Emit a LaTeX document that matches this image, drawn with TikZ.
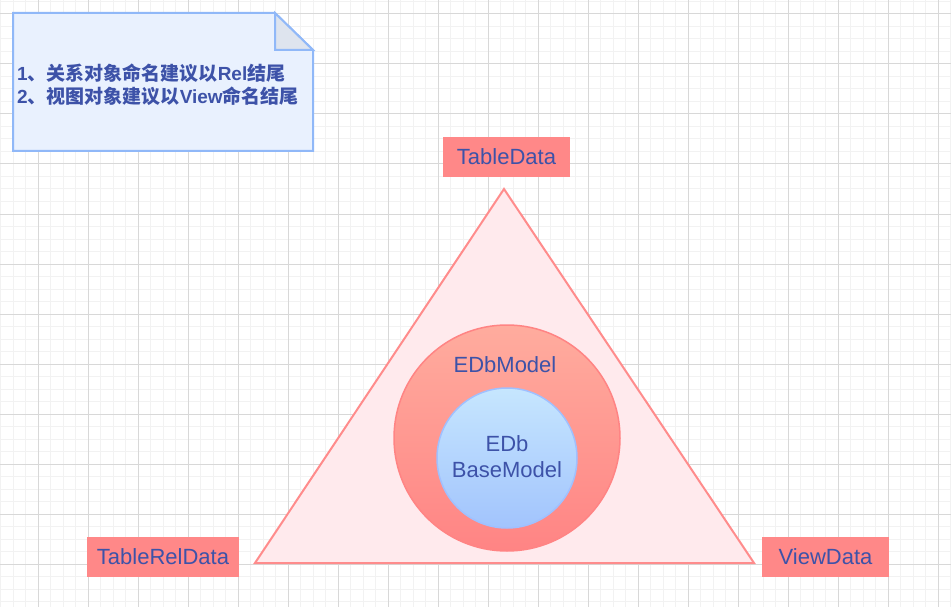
\documentclass[tikz,border=0pt]{standalone}
\usepackage{fontspec}
\setmainfont{Liberation Sans}
\newfontfamily\cjk{Noto Sans CJK SC}
\usetikzlibrary{positioning}
\definecolor{txtblue}{RGB}{61,82,168}
\definecolor{labelred}{RGB}{255,136,136}
\definecolor{trifill}{RGB}{255,234,237}
\definecolor{tristroke}{RGB}{255,140,140}
\definecolor{outertop}{RGB}{255,172,158}
\definecolor{outerbot}{RGB}{255,132,132}
\definecolor{innertop}{RGB}{198,230,254}
\definecolor{innerbot}{RGB}{162,196,253}
\definecolor{innerstroke}{RGB}{160,192,255}
\definecolor{notefill}{RGB}{233,241,254}
\definecolor{notestroke}{RGB}{144,184,248}
\definecolor{notefold}{RGB}{222,228,238}
\definecolor{gridminor}{RGB}{242,242,242}
\definecolor{gridmajor}{RGB}{216,216,216}
\newcommand{\zh}[1]{{\cjk #1}}

\begin{document}
\begin{tikzpicture}[x=1pt, y=-1pt,
  labelbox/.style={fill=labelred, text=txtblue, font=\fontsize{22}{26}\selectfont, minimum width=127pt, minimum height=40pt, inner sep=0pt},
  circletext/.style={text=txtblue, font=\fontsize{22}{26}\selectfont, align=center, inner sep=0pt}]
\useasboundingbox (0,0) rectangle (951,607);
% grid
\fill[white](0,0)rectangle(951,607);
\foreach \x in {0.5,13,...,950.5} \draw[gridminor, line width=1pt](\x,0)--(\x,607);
\foreach \y in {1.5,14,...,601.5} \draw[gridminor, line width=1pt](0,\y)--(951,\y);
\foreach \x in {38,88,...,938} \draw[gridmajor, line width=1pt](\x,0)--(\x,607);
\foreach \y in {14,64,...,564} \draw[gridmajor, line width=1pt](0,\y)--(951,\y);
% note
\coordinate(n1)at(13,13);
\coordinate(n2)at(275,13);
\coordinate(n3)at(313,50);
\coordinate(n4)at(313,151);
\coordinate(n5)at(13,151);
\coordinate(nf)at(275,50);
\path[draw=notestroke, fill=notefill, line width=2pt](n1)--(n2)--(n3)--(n4)--(n5)--cycle;
\path[draw=notestroke, fill=notefold, line width=2pt](n2)--(nf)--(n3)--cycle;
\node[anchor=west, align=left, text=txtblue, inner sep=0pt, font=\fontsize{19}{23}\selectfont\bfseries](note)at(17,85)
  {1\zh{、关系对象命名建议以}Rel\zh{结尾}\\2\zh{、视图对象建议以}View\zh{命名结尾}};
% triangle
\coordinate(tA)at(504,189);
\coordinate(tB)at(255,563);
\coordinate(tC)at(754,563);
\path[draw=tristroke, fill=trifill, line width=2pt](tA)--(tB)--(tC)--cycle;
% circles
\coordinate(c1)at(507,438);
\coordinate(c2)at(507,458);
\path[draw=outerbot, top color=outertop, bottom color=outerbot, line width=1.5pt](c1)circle(113);
\path[draw=innerstroke, top color=innertop, bottom color=innerbot, line width=1.5pt](c2)circle(70);
\node[circletext](edbmodel)at(505,365){EDbModel};
\node[circletext](edbbase)at(507,457){EDb\\BaseModel};
% labels
\node[labelbox](tabledata)at(506.5,157){TableData};
\node[labelbox, minimum width=152pt](tablereldata)at(163,557){TableRelData};
\node[labelbox](viewdata)at(825.5,557){ViewData};
\end{tikzpicture}
\end{document}
